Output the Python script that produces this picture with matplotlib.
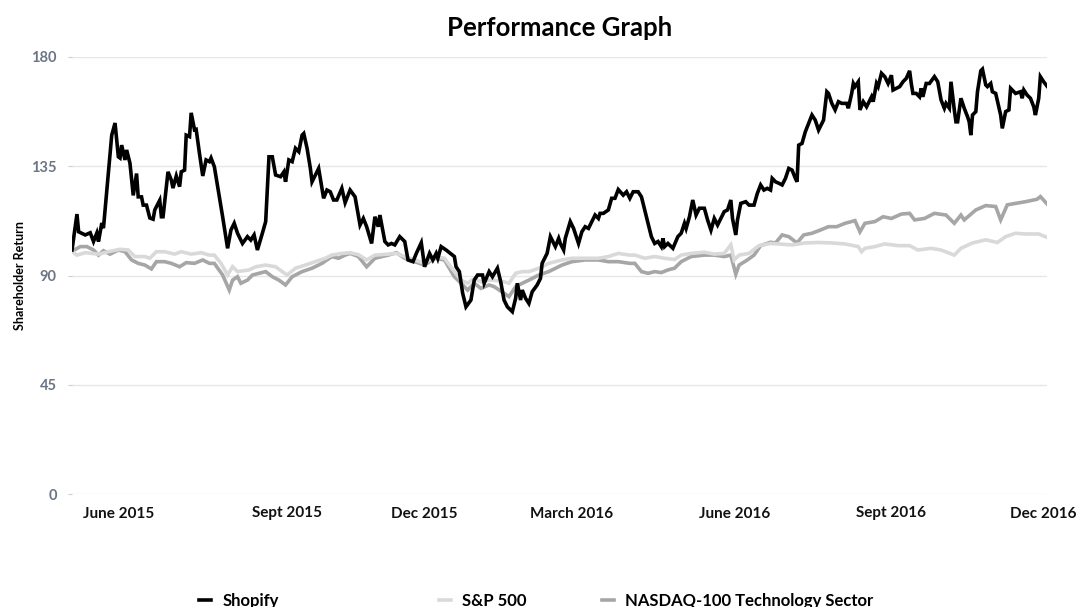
import pandas as pd
import matplotlib.pyplot as plt
from matplotlib.lines import Line2D

plt.rcParams['font.family'] = ['Lato', 'DejaVu Sans']

start = pd.Timestamp('2015-05-21')

# Shopify: days since IPO and indexed return
shop_days = [0, 3, 4, 8, 11, 13, 15, 16, 18, 19, 21, 24, 26, 28, 29, 30, 32, 33, 35, 37,
             39, 40, 42, 43, 45, 47, 49, 50, 53, 54, 55, 58, 60, 61, 63, 65, 66, 68, 69, 71,
             72, 74, 75, 77, 79, 81, 83, 84, 86, 88, 91, 94, 96, 98, 100, 103, 106, 108, 110, 112,
             115, 117, 119, 121, 123, 126, 128, 129, 131, 133, 135, 137, 139, 140, 142, 144, 145, 147, 149, 152,
             154, 156, 158, 160, 163, 165, 168, 171, 174, 176, 178, 181, 183, 185, 186, 189, 191, 193, 195, 198,
             201, 203, 206, 208, 211, 213, 216, 218, 220, 221, 223, 226, 228, 231, 232, 234, 236, 238, 241, 243,
             245, 248, 249, 252, 254, 257, 259, 261, 263, 266, 268, 269, 271, 272, 274, 276, 278, 281, 283, 284,
             287, 289, 292, 294, 295, 297, 298, 301, 303, 306, 308, 310, 312, 314, 316, 318, 319, 321, 324, 326,
             328, 330, 333, 335, 337, 339, 342, 344, 347, 350, 352, 354, 356, 357, 358, 360, 363, 366, 368, 370,
             371, 373, 375, 377, 379, 382, 384, 386, 388, 390, 392, 394, 396, 398, 399, 401, 402, 404, 407, 409,
             412, 414, 416, 418, 420, 422, 423, 425, 427, 429, 431, 433, 435, 437, 438, 439, 441, 443, 445, 447,
             449, 451, 454, 456, 457, 459, 461, 463, 465, 468, 469, 471, 472, 473, 475, 476, 478, 480, 483, 484,
             486, 487, 489, 491, 493, 495, 496, 498, 500, 502, 504, 506, 507, 508, 510, 512, 513, 514, 516, 518,
             521, 523, 525, 527, 528, 530, 531, 533, 534, 535, 537, 539, 541, 542, 543, 544, 546, 547, 549, 550,
             552, 553, 555, 556, 558, 561, 562, 564, 566, 567, 569, 570, 573, 574, 575, 577, 579, 581, 582, 584,
             585, 587, 589]
shop_vals = [100.5, 115.3, 108, 106.7, 107.6, 104, 107.5, 104, 111.6, 109.5, 125, 147.8, 152.8, 138.9, 138.4, 143.7, 137.6, 141.7, 136.3, 123,
             132, 122.4, 122.4, 119, 119, 113.7, 113.2, 117, 121, 114.2, 114.2, 132.7, 129.3, 126, 131, 126.6, 132.7, 133.4, 147.8, 147.2,
             157, 150, 150.2, 140.3, 131, 137.6, 136.9, 138.4, 134.8, 126.6, 114.2, 101.2, 108.7, 111.5, 107.4, 103.2, 106, 104.6, 106.7, 100.5,
             107.4, 112.2, 138.9, 138.9, 131.4, 130.7, 132.7, 128.6, 137.6, 136.9, 142.4, 141, 147.8, 148.5, 142.4, 134.1, 128.6, 131.4, 134.1, 121.8,
             125.2, 124.5, 121.1, 121.1, 125.9, 120, 125.2, 122.4, 110.8, 113.5, 110.1, 103.2, 114.2, 110.1, 114.9, 104, 102.6, 103.2, 102.6, 106,
             104, 96.4, 95.7, 99.1, 103.5, 93.6, 99.1, 96.4, 99.1, 97.1, 101.9, 100.5, 99.4, 97.8, 93.6, 91.6, 82.7, 77.1, 79.9, 88.1,
             90.2, 90.2, 86.8, 91.6, 89.5, 93, 87.4, 79.9, 77.1, 75.1, 80.6, 86.8, 79.9, 84, 80.6, 78.5, 83.3, 86.1, 88.8, 95,
             99.1, 106, 101.9, 105.3, 103.2, 100.5, 105.3, 112.2, 109.4, 103.2, 108, 110.1, 109.4, 112.2, 114.9, 113.5, 115.6, 115.6, 117, 121.8,
             121.8, 125.4, 123.1, 124.5, 121.8, 124.5, 124.5, 122.4, 114.2, 106, 103.2, 104, 101.9, 105.3, 101.9, 103.2, 101.2, 106, 107.4, 111.5,
             109.4, 114.2, 121.1, 114.9, 117.7, 117.7, 112.8, 108.7, 113.5, 110.8, 113.5, 116.3, 117, 121.1, 113.5, 106.7, 112.8, 119.7, 120.4, 119,
             119, 123.8, 127.3, 125.2, 125.9, 125.2, 130, 128.6, 128, 127.3, 130, 134.1, 133.4, 130, 128.6, 143.7, 144.4, 149.2, 152.7, 156.1,
             154, 149.9, 154, 165.7, 165, 160.9, 158.2, 161.6, 160.9, 160.9, 158.9, 165, 169.1, 167.8, 169.8, 158.2, 161.6, 159.5, 163.6, 161.6,
             169.1, 167.8, 173.3, 171.9, 169.1, 172.5, 166.4, 167.1, 167.8, 169.8, 171.2, 174.3, 169.1, 165, 165, 163.6, 167.1, 163.6, 169.1, 169.1,
             171.9, 169.8, 162.3, 158.9, 160.9, 158.9, 169.8, 158.2, 153.3, 153.3, 163, 158.9, 155.4, 153.3, 147.8, 156.1, 157.5, 165.7, 174.3, 175,
             168.5, 167.8, 169.1, 165.7, 165, 156.1, 150.6, 157.5, 158.2, 167.1, 165.7, 165, 165.7, 163, 166.4, 164.3, 163, 159.5, 156.1, 163,
             171.9, 169.8, 168]

# S&P 500
sp_days = [0, 3, 8, 16, 22, 29, 34, 38, 44, 47, 51, 56, 62, 66, 72, 78, 83, 86, 90, 94,
           97, 100, 107, 111, 117, 123, 127, 130, 135, 141, 147, 153, 157, 163, 168, 173, 178, 183, 191, 196,
           201, 207, 213, 219, 225, 231, 235, 239, 243, 247, 252, 255, 261, 264, 268, 272, 276, 282, 288, 296,
           302, 310, 318, 324, 330, 337, 340, 346, 352, 358, 364, 368, 374, 382, 388, 394, 398, 400, 403, 409,
           415, 422, 427, 435, 443, 451, 459, 467, 475, 477, 479, 485, 491, 499, 506, 511, 519, 525, 533, 537,
           544, 552, 559, 564, 570, 576, 584, 589]
sp_vals = [100, 98.4, 99.4, 98.8, 99.8, 100.8, 100.5, 97.8, 97.8, 97.1, 99.8, 99.8, 98.8, 99.8, 98.8, 99.4, 98.4, 98.4, 95, 90.2,
           93.6, 91.6, 92.3, 93.6, 94.3, 93.6, 91.6, 90.2, 93, 94.3, 95.7, 97.1, 98.4, 99.1, 99.4, 98.6, 96.4, 98.4, 98.8, 99.1,
           97.8, 96.4, 95, 97.8, 97.1, 91.6, 88.1, 86.8, 88.8, 87.4, 88.1, 88.1, 87.4, 86.8, 90.9, 91.6, 91.6, 93, 95, 96.4,
           97.1, 97.1, 97.1, 97.8, 99.1, 98.4, 98.4, 97.1, 97.8, 97.1, 96.6, 98.4, 99.1, 99.6, 98.8, 99.1, 102.6, 96.4, 98.4, 99.1,
           102.3, 103.2, 103, 102.6, 103.4, 103.6, 103.4, 103, 101.9, 99.8, 101.2, 101.9, 103, 102.3, 102.3, 100.5, 101.2, 100.5, 98.4, 101.2,
           103.4, 104.7, 103.6, 106, 107.4, 107.1, 107.1, 105.7]

# NASDAQ-100 Technology Sector
nq_days = [0, 5, 9, 13, 16, 19, 23, 28, 32, 36, 40, 44, 48, 51, 56, 60, 65, 69, 74, 79,
           83, 86, 91, 95, 97, 100, 102, 106, 109, 113, 117, 121, 125, 129, 133, 139, 145, 151, 157, 161,
           165, 168, 173, 178, 183, 191, 196, 201, 207, 213, 219, 225, 231, 235, 239, 243, 247, 252, 255, 261,
           264, 268, 272, 276, 282, 288, 296, 302, 310, 318, 324, 330, 337, 340, 344, 348, 352, 356, 360, 364,
           368, 374, 382, 388, 394, 398, 401, 403, 408, 412, 416, 422, 425, 429, 433, 438, 442, 447, 452, 457,
           462, 467, 473, 476, 479, 485, 490, 495, 501, 506, 509, 515, 521, 528, 533, 537, 539, 546, 552, 558,
           561, 565, 570, 576, 583, 585, 589]
nq_vals = [100, 101.9, 101.9, 100.5, 98.4, 100.2, 98.8, 100.5, 99.8, 96.4, 95, 94.3, 92.7, 95.7, 95.7, 95, 93.6, 95.3, 95, 96.4,
           95, 95, 90.2, 84, 88.1, 89.5, 86.8, 88.1, 90.2, 90.9, 91.6, 89.5, 88.1, 86.1, 89.5, 91.6, 93, 95, 97.8, 97.1,
           98.4, 99.1, 97.8, 93.6, 97.1, 98.4, 99.4, 97.1, 95.7, 94.3, 97.1, 96.4, 89.5, 86.8, 84, 86.8, 84.7, 86.1, 85.4, 82.7,
           81.3, 85.4, 86.8, 88.1, 90.2, 91.6, 94.3, 95.7, 96.4, 96.4, 95.7, 95.7, 95, 95, 91.6, 90.9, 91.6, 91.2, 92.3, 93,
           95.7, 97.8, 98.4, 98.4, 97.8, 98.4, 90.5, 94.3, 96.4, 98.4, 102.3, 103.7, 103.4, 106.7, 106, 103.4, 106.7, 107.4, 108.7, 110.1,
           110.1, 111.5, 112.6, 108, 111.5, 112.2, 114.2, 113.5, 115.3, 115.6, 112.9, 113.5, 115.6, 114.9, 111.5, 114.9, 112.9, 117, 118.8, 118.4,
           112.9, 119.1, 119.7, 120.4, 121.4, 122.5, 119.5]

tick_dates = ['2015-06-18', '2015-09-28', '2015-12-20', '2016-03-18', '2016-06-24', '2016-09-27', '2016-12-28']
tick_labels = ['June 2015', 'Sept 2015', 'Dec 2015', 'March 2016', 'June 2016', 'Sept 2016', 'Dec 2016']
y_ticks = [0, 45, 90, 135, 180]

series = [
    ('Shopify', shop_days, shop_vals, '#000000'),
    ('S&P 500', sp_days, sp_vals, '#d9d9d9'),
    ('NASDAQ-100 Technology Sector', nq_days, nq_vals, '#a6a6a6'),
]

fig = plt.figure(figsize=(10.79, 6.07), dpi=100)
ax = fig.add_axes([72 / 1079, 1 - 494 / 607, (1047 - 72) / 1079, (494 - 57) / 607])

# draw gray series first so Shopify sits on top
for name, days, vals, color in reversed(series):
    dates = start + pd.to_timedelta(days, unit='D')
    ax.plot(dates, vals, color=color, linewidth=2.6, solid_joinstyle='miter')

ax.set_ylim(0, 180)
ax.set_xlim(start, start + pd.Timedelta(days=589))
ax.set_yticks(y_ticks)
ax.set_yticklabels([str(v) for v in y_ticks], fontsize=10.5, fontweight='bold', color='#6b7585')
ax.set_xticks(pd.to_datetime(tick_dates))
ax.set_xticklabels(tick_labels, fontsize=11, fontweight='bold', color='#111111')
ax.tick_params(axis='y', length=3, color='#cccccc', pad=8)
ax.tick_params(axis='x', length=0, pad=9)
ax.grid(axis='y', color='#e6e6e6', linewidth=1)
ax.set_axisbelow(True)
for s in ax.spines.values():
    s.set_visible(False)

ax.set_ylabel('Shareholder Return', fontsize=9, fontweight='bold', labelpad=4)
ax.set_title('Performance Graph', fontsize=18.5, fontweight='bold', pad=15)

# legend entries placed individually
legend_x = [199, 439, 602]
for (name, days, vals, color), lx in zip(series, legend_x):
    h = Line2D([], [], color=color, linewidth=2.6)
    fig.legend([h], [name], loc='center left', bbox_to_anchor=(lx / 1079, 1 - 601 / 607),
               frameon=False, handlelength=0.7, handletextpad=0.7,
               prop={'weight': 'bold', 'size': 12}, borderaxespad=0, borderpad=0)

fig.savefig('out.png', dpi=100)
